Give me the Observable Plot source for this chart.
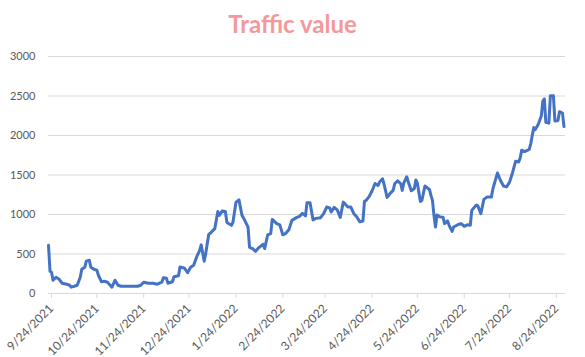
<!DOCTYPE html>
<html>
<head>
<meta charset="utf-8">
<script src="https://cdn.jsdelivr.net/npm/d3@7"></script>
<script src="https://cdn.jsdelivr.net/npm/@observablehq/plot@0.6"></script>
<style>
  html, body { margin: 0; padding: 0; background: #fff; }
  #title { height: 40px; box-sizing: border-box; padding-top: 12px; text-align: center;
           font: bold 24px Lato, sans-serif; line-height: 1; color: #F4999B; width: 585px; }
</style>
</head>
<body>
<div id="title">Traffic value</div>
<div id="chart"></div>
<script>
const dates = [
"2021-09-24","2021-09-25","2021-09-26","2021-09-27","2021-09-29","2021-10-01","2021-10-03","2021-10-06","2021-10-08","2021-10-09",
"2021-10-11","2021-10-13","2021-10-15","2021-10-16","2021-10-18","2021-10-19","2021-10-21","2021-10-22","2021-10-24","2021-10-26",
"2021-10-27","2021-10-29","2021-10-31","2021-11-02","2021-11-05","2021-11-07","2021-11-09","2021-11-11","2021-11-15","2021-11-18",
"2021-11-22","2021-11-24","2021-11-26","2021-11-29","2021-12-02","2021-12-05","2021-12-08","2021-12-09","2021-12-11","2021-12-12",
"2021-12-15","2021-12-16","2021-12-19","2021-12-20","2021-12-22","2021-12-23","2021-12-25","2021-12-27","2021-12-29","2021-12-31",
"2022-01-02","2022-01-03","2022-01-05","2022-01-06","2022-01-08","2022-01-10","2022-01-12","2022-01-14","2022-01-15","2022-01-17",
"2022-01-19","2022-01-20","2022-01-23","2022-01-24","2022-01-26","2022-01-28","2022-01-30","2022-01-31","2022-02-03","2022-02-04",
"2022-02-06","2022-02-08","2022-02-10","2022-02-13","2022-02-14","2022-02-16","2022-02-18","2022-02-19","2022-02-22","2022-02-24",
"2022-02-26","2022-02-28","2022-03-02","2022-03-04","2022-03-07","2022-03-09","2022-03-11","2022-03-13","2022-03-14","2022-03-16",
"2022-03-18","2022-03-20","2022-03-23","2022-03-25","2022-03-27","2022-03-29","2022-03-30","2022-04-01","2022-04-03","2022-04-05",
"2022-04-07","2022-04-10","2022-04-12","2022-04-14","2022-04-16","2022-04-18","2022-04-20","2022-04-21","2022-04-22","2022-04-24",
"2022-04-26","2022-04-28","2022-04-30","2022-05-01","2022-05-03","2022-05-04","2022-05-06","2022-05-08","2022-05-10","2022-05-11",
"2022-05-13","2022-05-15","2022-05-16","2022-05-17","2022-05-19","2022-05-20","2022-05-22","2022-05-24","2022-05-25","2022-05-26",
"2022-05-28","2022-05-29","2022-05-31","2022-06-03","2022-06-04","2022-06-05","2022-06-06","2022-06-07","2022-06-08","2022-06-10",
"2022-06-12","2022-06-13","2022-06-15","2022-06-16","2022-06-18","2022-06-19","2022-06-22","2022-06-24","2022-06-26","2022-06-28",
"2022-06-30","2022-07-01","2022-07-04","2022-07-05","2022-07-07","2022-07-09","2022-07-11","2022-07-14","2022-07-15","2022-07-18",
"2022-07-20","2022-07-22","2022-07-24","2022-07-26","2022-07-28","2022-07-30","2022-08-01","2022-08-02","2022-08-03","2022-08-05",
"2022-08-08","2022-08-09","2022-08-11","2022-08-12","2022-08-14","2022-08-16","2022-08-17","2022-08-18","2022-08-19","2022-08-21",
"2022-08-22","2022-08-24","2022-08-25","2022-08-27","2022-08-28","2022-08-30","2022-08-31"
];
const values = [
610,283,270,168,206,181,130,118,105,80,
92,105,206,307,332,409,421,332,307,295,
231,149,155,143,80,168,105,92,92,92,
92,105,143,130,130,118,143,200,193,130,
149,212,225,336,326,320,263,332,357,462,
547,616,408,505,749,781,821,1039,989,1046,
1039,900,863,900,1153,1185,989,957,841,585,
568,534,578,623,568,743,758,938,884,869,
743,762,806,926,960,976,1014,983,1149,1149,
932,951,960,1010,1094,1084,1031,1090,1058,964,
1157,1096,1094,1010,967,907,917,1166,1178,1223,
1298,1393,1368,1410,1452,1380,1216,1267,1305,1389,
1425,1389,1305,1397,1478,1410,1301,1330,1437,1397,
1166,1178,1361,1317,1242,1178,989,841,995,970,
964,884,919,863,787,841,873,884,850,869,
863,1052,1119,1109,1010,1191,1220,1223,1326,1526,
1431,1361,1349,1410,1532,1675,1665,1713,1814,1797,
1823,1895,2100,2075,2142,2246,2435,2463,2167,2157,
2504,2504,2182,2189,2302,2283,2113
];
const yTicks = [0, 500, 1000, 1500, 2000, 2500, 3000];
const tickDates = ["2021-09-24","2021-10-24","2021-11-24","2021-12-24","2022-01-24","2022-02-24",
                   "2022-03-24","2022-04-24","2022-05-24","2022-06-24","2022-07-24","2022-08-24"];
const tickLabels = ["9/24/2021","10/24/2021","11/24/2021","12/24/2021","1/24/2022","2/24/2022",
                    "3/24/2022","4/24/2022","5/24/2022","6/24/2022","7/24/2022","8/24/2022"];

const data = dates.map((d, i) => ({date: new Date(d), value: values[i]}));
const tickDateObjs = tickDates.map(d => new Date(d));
const labelOf = new Map(tickDateObjs.map((d, i) => [+d, tickLabels[i]]));

const chart = Plot.plot({
  width: 585,
  height: 317,
  marginLeft: 48,
  marginRight: 20,
  marginTop: 16,
  marginBottom: 64,
  style: {fontFamily: "Lato, sans-serif", fontSize: "11px", color: "#595959", background: "#fff"},
  x: {type: "utc", domain: [new Date("2021-09-24"), new Date("2022-09-01")]},
  y: {domain: [0, 3000]},
  marks: [
    Plot.gridY(yTicks, {stroke: "#d9d9d9", strokeOpacity: 1, strokeWidth: 1}),
    Plot.axisY(yTicks, {tickSize: 0, tickPadding: 13, label: null, fill: "#595959", tickFormat: d => String(d)}),
    Plot.axisX(tickDateObjs, {tickSize: 5, tickPadding: 8, dx: 3, tickRotate: -45, label: null, fontSize: 12,
      stroke: "#d9d9d9", fill: "#595959", tickFormat: d => labelOf.get(+d)}),
    Plot.lineY(data, {x: "date", y: "value", stroke: "#4472C4", strokeWidth: 3, strokeLinejoin: "round"})
  ]
});
document.getElementById("chart").appendChild(chart);
</script>
</body>
</html>
